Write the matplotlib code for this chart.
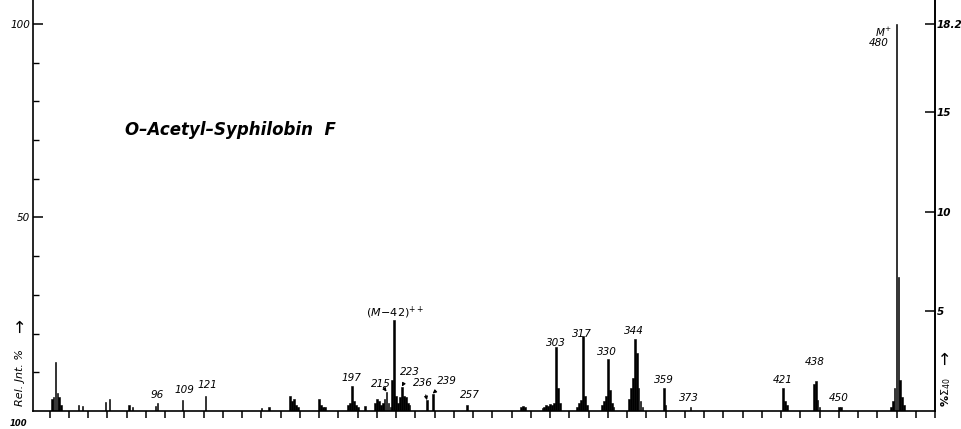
import matplotlib
matplotlib.use("Agg")
import matplotlib.pyplot as plt
from matplotlib.ticker import FixedLocator, MultipleLocator, NullFormatter, FixedFormatter

# ---- data: m/z and relative intensity (%) ----
mz = [41, 42, 43, 44, 45, 46,
      55, 57, 69, 71, 81, 83, 95, 96,
      109, 121, 150, 154,
      165, 166, 167, 168, 169, 180, 181, 182, 183,
      195, 196, 197, 198, 199, 200, 204,
      209, 210, 211, 212, 213, 214, 215, 216, 217,
      218, 219, 220,
      221, 222, 223, 224, 225, 226, 227,
      236, 239, 257, 285, 286, 287,
      296, 297, 298, 299, 300, 301, 302, 303, 304, 305,
      314, 315, 316, 317, 318, 319,
      327, 328, 329, 330, 331, 332, 333,
      341, 342, 343, 344, 345, 346, 347, 348,
      359, 360, 373,
      421, 422, 423,
      437, 438, 439, 440,
      450, 451,
      477, 478, 479, 480, 481, 482, 483, 484]
intensity = [3.0, 3.5, 12.7, 4.6, 3.5, 1.5,
             1.5, 1.2, 2.2, 3.0, 1.5, 1.0, 1.2, 2.0,
             2.8, 3.9, 0.8, 1.0,
             3.9, 2.5, 3.0, 1.5, 1.0, 3.0, 1.5, 1.0, 1.0,
             1.5, 2.0, 6.5, 2.5, 1.5, 1.0, 1.2,
             2.0, 3.0, 2.5, 1.5, 2.0, 3.0, 5.0, 2.0, 1.0,
             8.0, 23.5, 4.0,
             2.0, 3.5, 6.3, 4.0, 3.5, 2.0, 1.5,
             2.8, 4.5, 1.5, 1.0, 1.2, 1.0,
             0.8, 1.0, 1.5, 1.2, 1.8, 1.5, 2.0, 16.5, 6.0, 2.0,
             1.0, 2.0, 2.8, 19.5, 4.0, 1.5,
             1.5, 2.5, 4.0, 13.4, 5.4, 2.0, 1.0,
             3.0, 6.0, 8.5, 18.6, 15.0, 6.0, 2.5, 1.0,
             6.0, 1.5, 1.0,
             6.0, 2.5, 1.5,
             7.0, 7.8, 2.8, 1.0,
             1.0, 1.0,
             1.0, 2.5, 6.0, 100.0, 34.6, 8.0, 3.5, 1.5]

# labelled peaks: (text, peak m/z, peak height, label m/z, label height, arrow)
peak_labels = [
    ("96", 96, 2.0, 95.7, 4.1, False),
    ("109", 109, 2.8, 110.2, 5.4, False),
    ("121", 121, 3.9, 122.2, 6.7, False),
    ("197", 197, 6.5, 197.0, 8.5, False),
    ("215", 215, 5.0, 212.1, 7.0, True),
    ("223", 223, 6.3, 227.1, 10.1, True),
    ("236", 236, 2.8, 233.9, 7.2, True),
    ("239", 239, 4.5, 246.4, 7.8, True),
    ("257", 257, 1.5, 258.3, 4.1, False),
    ("303", 303, 16.5, 303.0, 17.6, False),
    ("317", 317, 19.5, 316.5, 19.9, False),
    ("330", 330, 13.4, 329.5, 15.2, False),
    ("344", 344, 18.6, 343.5, 20.7, False),
    ("359", 359, 6.0, 359.0, 8.0, False),
    ("373", 373, 1.0, 372.0, 3.4, False),
    ("421", 421, 6.0, 421.0, 8.0, False),
    ("438", 438, 7.8, 437.5, 12.7, False),
    ("450", 450, 1.0, 450.0, 3.4, False),
]

left_major = [50, 100]
left_minor = [10, 20, 30, 40, 60, 70, 80, 90]
right_ticks = [5, 10, 15, 19.4]
right_labels = ["5", "10", "15", "18.2"]

W, H = 962, 429
fig = plt.figure(figsize=(W / 100, H / 100), dpi=100)
fig.patch.set_facecolor("white")
ax = fig.add_axes([33 / W, 18 / H, (935 - 33) / W, 1 - 18 / H])
ax.set_xlim(31.3, 500)
ax.set_ylim(0, 106.2)

ax.bar(mz, intensity, width=0.9, color="black", edgecolor="black",
       linewidth=0.4, align="center")

ax.spines["top"].set_visible(False)
for s in ("left", "right", "bottom"):
    ax.spines[s].set_linewidth(1.2)

# x ticks every 10, pointing down, no labels
ax.xaxis.set_major_locator(MultipleLocator(10))
ax.xaxis.set_major_formatter(NullFormatter())
ax.tick_params(axis="x", direction="out", length=5, width=1.1)

# left y ticks
ax.yaxis.set_major_locator(FixedLocator(left_major))
ax.yaxis.set_minor_locator(FixedLocator(left_minor))
ax.tick_params(axis="y", which="major", direction="in", length=7, width=1.1,
               labelsize=7.5, pad=2)
ax.tick_params(axis="y", which="minor", direction="in", length=4, width=1.0)
for lab in ax.get_yticklabels():
    lab.set_fontstyle("italic")

# right axis
ax2 = ax.twinx()
ax2.set_ylim(0, 106.2 * 0.194)
ax2.yaxis.set_major_locator(FixedLocator(right_ticks))
ax2.yaxis.set_major_formatter(FixedFormatter(right_labels))
ax2.tick_params(axis="y", direction="in", length=7, width=1.1, labelsize=7.5, pad=1)
for lab in ax2.get_yticklabels():
    lab.set_fontstyle("italic")
    lab.set_fontweight("bold")
for s in ("top", "left", "bottom"):
    ax2.spines[s].set_visible(False)
ax2.spines["right"].set_linewidth(1.2)

# peak labels
lab_kw = dict(fontsize=7.5, fontstyle="italic", ha="center", va="center")
for txt, pm, ph, lm, lh, arrow in peak_labels:
    if arrow:
        ax.annotate(txt, xy=(pm, ph), xytext=(lm, lh),
                    arrowprops=dict(arrowstyle="-|>", lw=0.8, color="black",
                                    mutation_scale=5, shrinkA=3, shrinkB=0),
                    **lab_kw)
    else:
        ax.text(lm, lh, txt, **lab_kw)

ax.text(219.3, 25.3, r"$(M\!-\!42)^{++}$", fontsize=8, fontstyle="italic",
        ha="center", va="center", math_fontfamily="dejavusans")
ax.text(473.0, 97.9, r"$M^{+}$", fontsize=7.5, ha="center", va="center")
ax.text(471.0, 95.0, "480", fontsize=7.5, fontstyle="italic", ha="center", va="center")

# title
fig.text(230 / W, 1 - 130 / H, "O–Acetyl–Syphilobin  F", fontsize=12,
         fontstyle="italic", fontweight="semibold", ha="center", va="center")

# axis captions
fig.text(20 / W, 1 - 377 / H, "Rel. Jnt. %", rotation=90, fontsize=8,
         fontstyle="italic", ha="center", va="center")
fig.text(21 / W, 1 - 326 / H, "\u2192", rotation=90, fontsize=12,
         ha="center", va="center")
fig.text(946 / W, 1 - 392 / H, r"%$\Sigma_{40}$", rotation=90, fontsize=8,
         fontweight="bold", ha="center", va="center")
fig.text(946 / W, 1 - 358 / H, "\u2192", rotation=90, fontsize=12,
         ha="center", va="center")

# small label at bottom-left corner
fig.text(18 / W, 1 / H, "100", fontsize=6, fontstyle="italic",
         fontweight="bold", ha="center", va="bottom")

fig.savefig("out.png", dpi=100, facecolor="white")
